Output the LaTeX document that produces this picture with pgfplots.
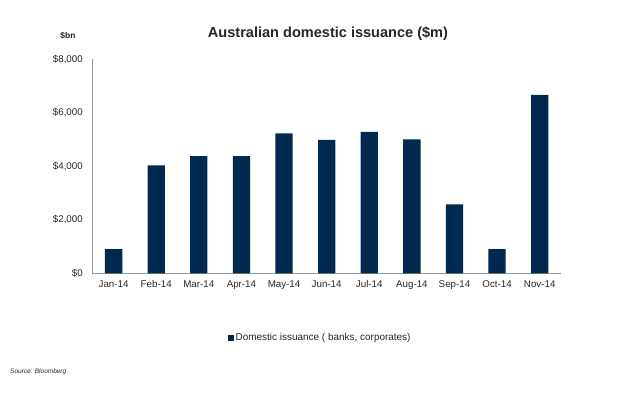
\documentclass[border=0pt]{standalone}
\usepackage{pgfplots}
\pgfplotsset{compat=1.18}
\usepackage{fontspec}
\setmainfont{Liberation Sans}
\definecolor{barnavy}{RGB}{0,41,80}
\definecolor{txtgray}{RGB}{38,38,38}
\definecolor{axgray}{RGB}{150,150,150}
\begin{document}
\begin{tikzpicture}
\path[use as bounding box] (0,0) rectangle (632bp,395bp);
\begin{axis}[
  at={(92.3bp,121.7bp)}, anchor=south west,
  scale only axis, width=468.7bp, height=214bp,
  xmin=-0.5, xmax=10.5, ymin=0, ymax=8000,
  axis x line*=bottom, axis y line*=left,
  axis line style={draw=axgray, line width=0.8pt, -},
  ybar, bar width=17.3bp,
  xtick={0,...,10},
  xticklabels={Jan-14,Feb-14,Mar-14,Apr-14,May-14,Jun-14,Jul-14,Aug-14,Sep-14,Oct-14,Nov-14},
  ytick={0,2000,4000,6000,8000},
  yticklabels={{\$0},{\$2,000},{\$4,000},{\$6,000},{\$8,000}},
  major tick length=0pt,
  tick label style={font=\fontsize{9.8}{11}\selectfont, text=txtgray},
  xticklabel style={yshift=-4bp},
  yticklabel style={xshift=-6bp},
  legend style={at={(0.486,-0.302)}, anchor=center, draw=none, fill=none,
    font=\fontsize{10}{12}\selectfont, text=txtgray, inner sep=0pt},
  legend image code/.code={\fill[barnavy] (0bp,-3bp) rectangle (6bp,3bp);},
]
\addplot[fill=barnavy, draw=none] coordinates {
  (0,908) (1,4037) (2,4385) (3,4385) (4,5234) (5,4984)
  (6,5283) (7,5009) (8,2579) (9,908) (10,6666)
};
\addlegendentry{Domestic issuance ( banks, corporates)}
\end{axis}
\node[font=\bfseries\fontsize{14.6}{16}\selectfont, text=txtgray] at (328bp,361.5bp) {Australian domestic issuance (\$m)};
\node[font=\bfseries\fontsize{8.5}{10}\selectfont, text=txtgray] at (68bp,359bp) {\$bn};
\node[font=\itshape\fontsize{6.5}{8}\selectfont, text=txtgray, anchor=west, inner sep=0pt] at (10bp,23bp) {Source: Bloomberg};
\end{tikzpicture}
\end{document}
